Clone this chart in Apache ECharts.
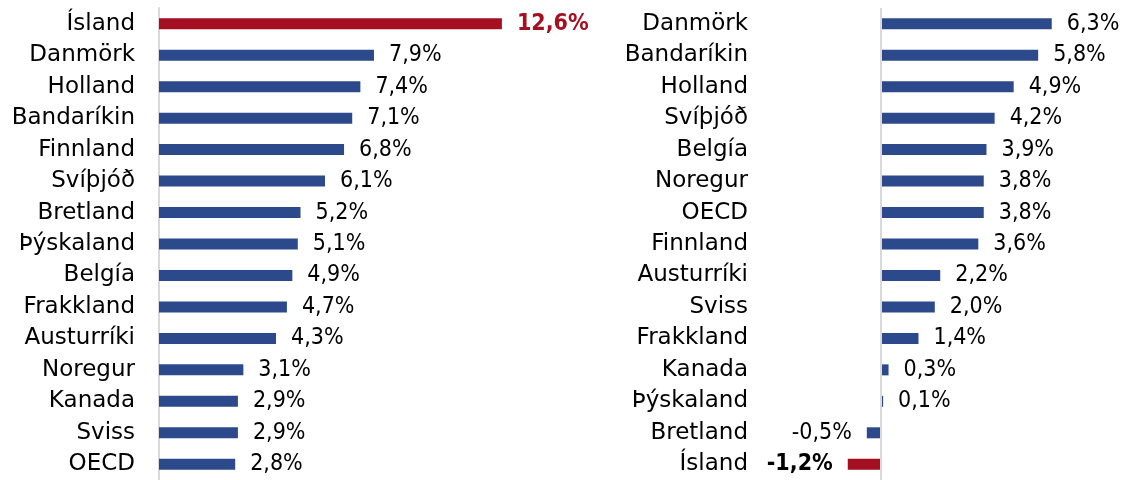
<!DOCTYPE html>
<html>
<head>
<meta charset="utf-8">
<script src="https://cdn.jsdelivr.net/npm/echarts@6/dist/echarts.min.js"></script>
<style>
  html, body { margin: 0; padding: 0; background: #fff; }
  #chart { width: 1124px; height: 480px; }
</style>
</head>
<body>
<div id="chart"></div>
<script>
var leftCategories = ['Ísland', 'Danmörk', 'Holland', 'Bandaríkin', 'Finnland', 'Svíþjóð', 'Bretland',
  'Þýskaland', 'Belgía', 'Frakkland', 'Austurríki', 'Noregur', 'Kanada', 'Sviss', 'OECD'];
var leftValues = [12.6, 7.9, 7.4, 7.1, 6.8, 6.1, 5.2, 5.1, 4.9, 4.7, 4.3, 3.1, 2.9, 2.9, 2.8];

var rightCategories = ['Danmörk', 'Bandaríkin', 'Holland', 'Svíþjóð', 'Belgía', 'Noregur', 'OECD',
  'Finnland', 'Austurríki', 'Sviss', 'Frakkland', 'Kanada', 'Þýskaland', 'Bretland', 'Ísland'];
var rightValues = [6.3, 5.8, 4.9, 4.2, 3.9, 3.8, 3.8, 3.6, 2.2, 2.0, 1.4, 0.3, 0.1, -0.5, -1.2];

var blue = '#2c4a8b';
var red = '#a50f22';
var catFont = 'DejaVu Sans';
var valFont = 'DejaVu Sans Condensed';

function fmt(v) {
  return v.toFixed(1).replace('.', ',') + '%';
}

function buildData(cats, vals, redLabel) {
  return vals.map(function (v, i) {
    var item = { value: v };
    var isl = cats[i] === 'Ísland';
    item.itemStyle = { color: isl ? red : blue };
    item.label = {
      position: v < 0 ? 'left' : 'right',
      color: isl && redLabel ? red : '#000',
      fontWeight: isl ? 'bold' : 'normal'
    };
    return item;
  });
}

var myChart = echarts.init(document.getElementById('chart'));

var labelBase = {
  show: true,
  distance: 15,
  fontFamily: valFont,
  fontSize: 23,
  formatter: function (p) { return fmt(p.value); }
};

myChart.setOption({
  animation: false,
  grid: [
    { left: 159, top: 8, width: 381, height: 472 },
    { left: 758, top: 8, width: 340, height: 472 }
  ],
  xAxis: [
    { gridIndex: 0, type: 'value', min: 0, max: 14, show: false },
    { gridIndex: 1, type: 'value', min: -4.5, max: 8, show: false }
  ],
  yAxis: [
    {
      gridIndex: 0, type: 'category', data: leftCategories, inverse: true,
      axisLine: { show: true, lineStyle: { color: '#d9d9d9', width: 2 } },
      axisTick: { show: false },
      axisLabel: { color: '#000', fontFamily: catFont, fontSize: 23, margin: 24 }
    },
    {
      gridIndex: 1, type: 'category', data: rightCategories, inverse: true,
      axisLine: { show: false, onZero: false },
      axisTick: { show: false },
      axisLabel: { color: '#000', fontFamily: catFont, fontSize: 23, margin: 10 }
    }
  ],
  series: [
    {
      type: 'bar', xAxisIndex: 0, yAxisIndex: 0, barWidth: 11,
      data: buildData(leftCategories, leftValues, true),
      label: labelBase
    },
    {
      type: 'bar', xAxisIndex: 1, yAxisIndex: 1, barWidth: 11,
      data: buildData(rightCategories, rightValues, false),
      label: labelBase,
      markLine: {
        silent: true,
        symbol: 'none',
        label: { show: false },
        lineStyle: { color: '#d9d9d9', width: 2, type: 'solid' },
        data: [{ xAxis: 0 }]
      }
    }
  ]
});

window.addEventListener('resize', function () {
  myChart.resize();
});
</script>
</body>
</html>
